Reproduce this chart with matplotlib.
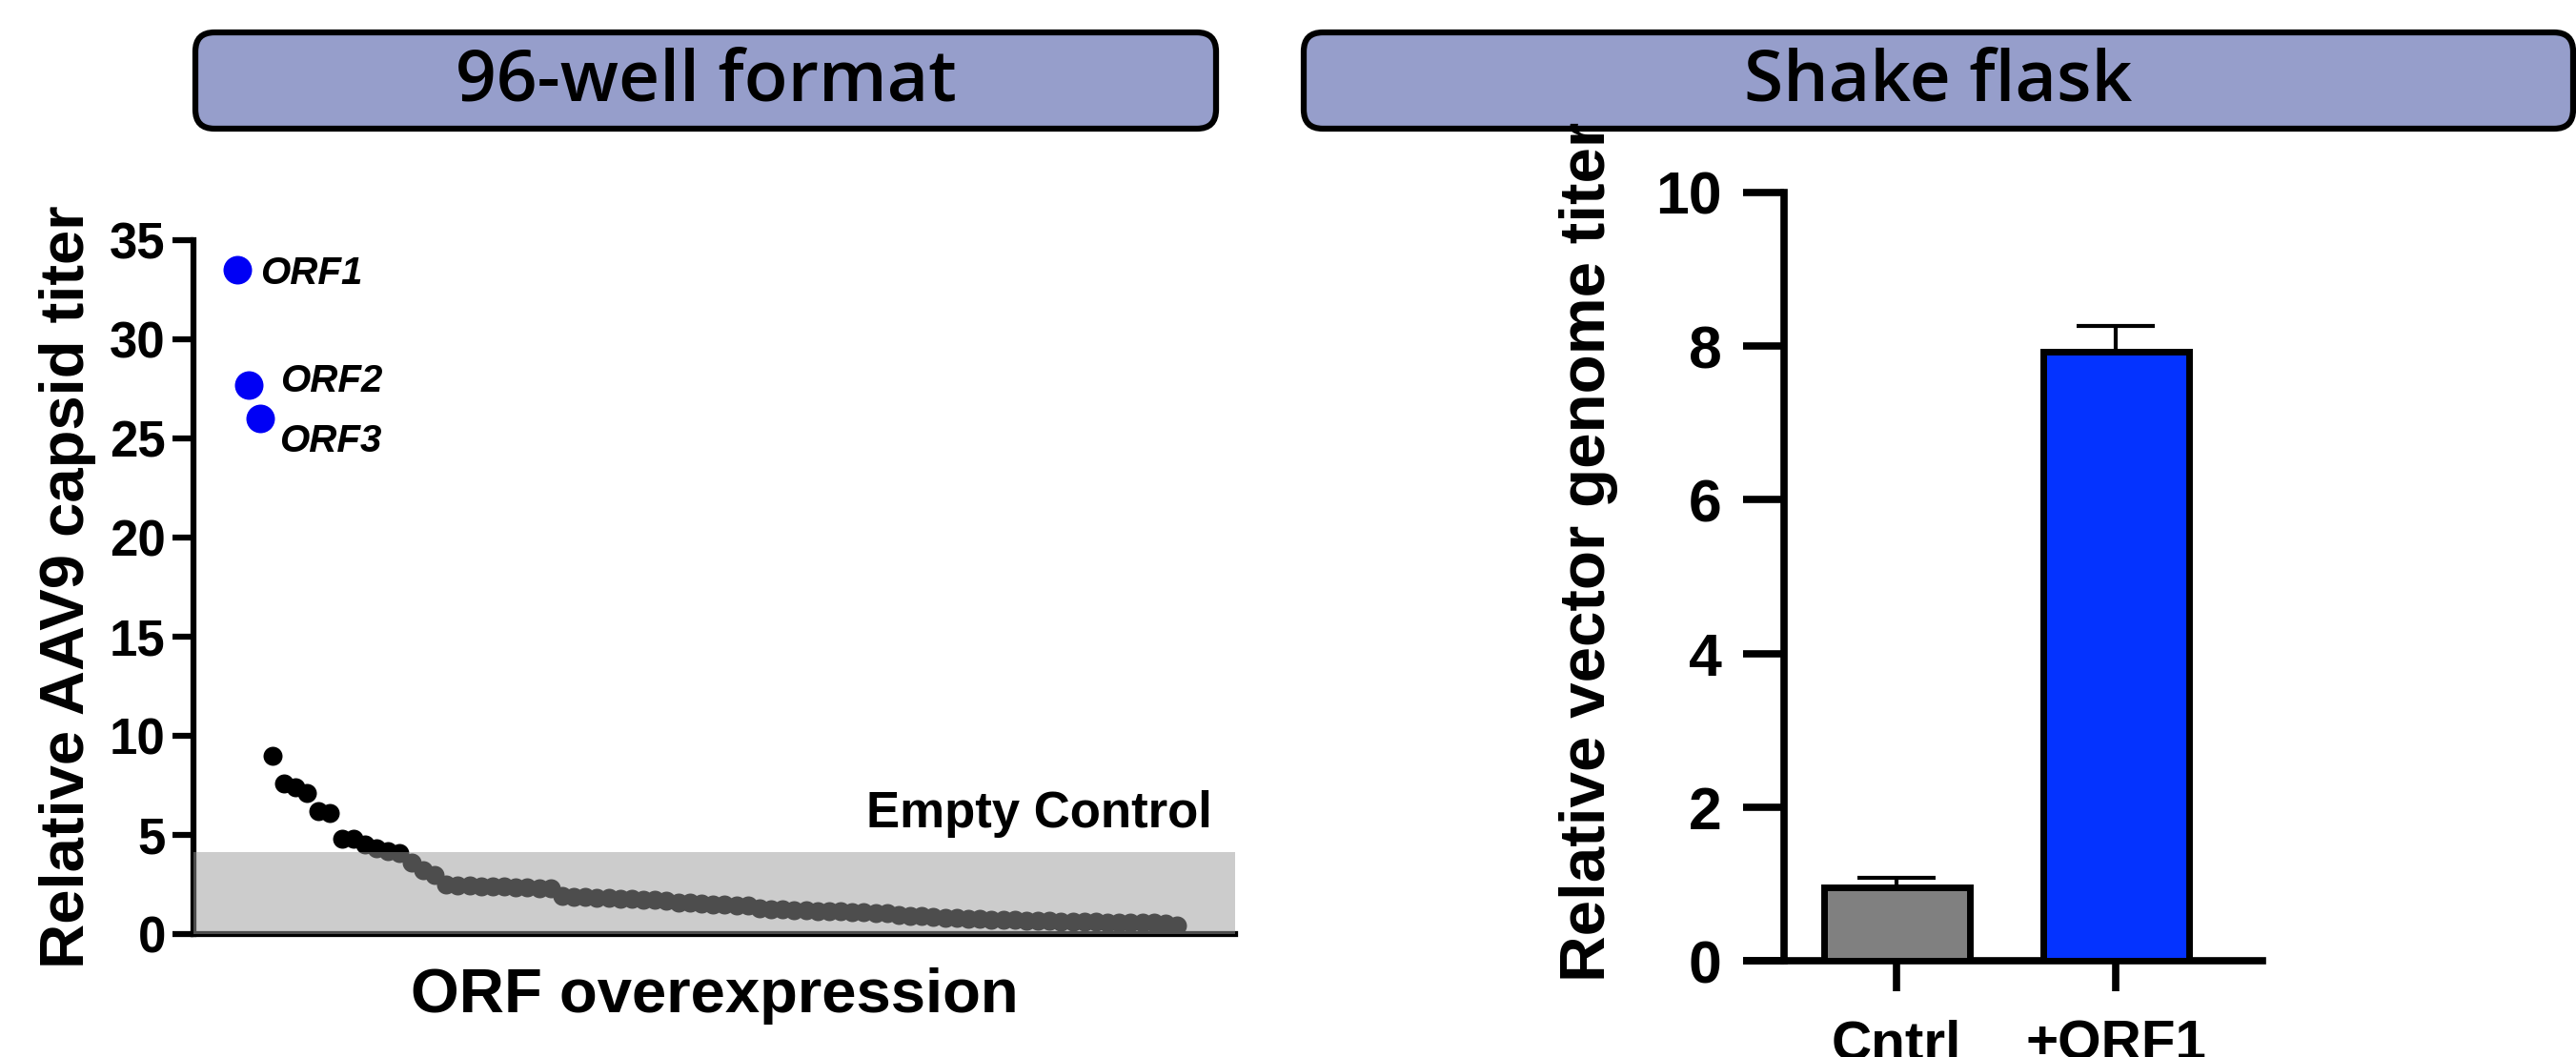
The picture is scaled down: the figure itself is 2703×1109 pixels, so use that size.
import numpy as np
import matplotlib.pyplot as plt
from matplotlib.patches import FancyBboxPatch

plt.rcParams['font.family'] = ['Liberation Sans', 'DejaVu Sans']
plt.rcParams['font.weight'] = 'bold'

# --- data ---
# 96-well screen, ranked ORFs (first three are the hits)
hit_names = ['ORF1', 'ORF2', 'ORF3']
hit_titer = [33.5, 27.7, 26.0]
other_titer = [9.0, 7.6, 7.4, 7.1, 6.2, 6.1, 4.8, 4.8, 4.5, 4.35, 4.2, 4.1,
               3.6, 3.2, 3.0, 2.5, 2.45, 2.45, 2.42, 2.4, 2.4, 2.37, 2.35,
               2.32, 2.3, 1.9, 1.88, 1.86, 1.84, 1.82, 1.8, 1.78, 1.75, 1.72,
               1.68, 1.6, 1.57, 1.54, 1.51, 1.48, 1.45, 1.42, 1.3, 1.27, 1.24,
               1.21, 1.19, 1.17, 1.15, 1.13, 1.11, 1.09, 1.07, 1.05, 0.95,
               0.92, 0.89, 0.86, 0.83, 0.8, 0.78, 0.76, 0.74, 0.72, 0.7, 0.68,
               0.66, 0.65, 0.64, 0.63, 0.62, 0.61, 0.6, 0.59, 0.58, 0.57,
               0.56, 0.54, 0.45]
empty_control = 4.15

# shake flask
flask_groups = ['Cntrl', '+ORF1']
flask_titer = [0.96, 7.93]
flask_err = [0.12, 0.33]
flask_colors = ['#808080', '#0433ff']

titles = ['96-well format', 'Shake flask']

W, H = 2703, 1109
fig = plt.figure(figsize=(W / 100, H / 100), dpi=100)

# header boxes drawn in pixel coordinates
bg = fig.add_axes([0, 0, 1, 1])
bg.set_xlim(0, W)
bg.set_ylim(H, 0)
bg.axis('off')
for (x0, x1), t in zip([(205, 1276), (1368, 2700)], titles):
    box = FancyBboxPatch((x0, 34), x1 - x0, 101,
                         boxstyle='round,pad=0,rounding_size=20',
                         facecolor='#969ecb', edgecolor='black', linewidth=4.5)
    bg.add_patch(box)
    bg.text((x0 + x1) / 2, 86, t, ha='center', va='center',
            fontsize=54, fontweight='semibold', family='Open Sans')

# --- left panel: scatter ---
ax1 = fig.add_axes([203 / W, 1 - 980 / H, (1296 - 203) / W, (980 - 252) / H])
x_hit = np.arange(len(hit_titer))
x_other = np.arange(len(hit_titer), len(hit_titer) + len(other_titer))
ax1.scatter(x_other, other_titer, s=207, color='black', linewidths=0, zorder=2)
ax1.scatter(x_hit, hit_titer, s=466, color='#0000f5', linewidths=0, zorder=5)
ax1.axhspan(0, empty_control, color='#9a9a9a', alpha=0.5, linewidth=0, zorder=3)

offsets = [(17, -3), (24, 3), (14, -17)]
for xi, yi, name, off in zip(x_hit, hit_titer, hit_names, offsets):
    ax1.annotate(name, (xi, yi), xytext=off, textcoords='offset points',
                 ha='left', va='center', fontsize=29, style='italic',
                 fontweight='bold')

ax1.text(0.978, 5.4, 'Empty Control', transform=ax1.get_yaxis_transform(),
         ha='right', va='baseline', fontsize=38, fontweight='bold')

ax1.set_xlim(-3.78, 86.0)
ax1.set_ylim(0, 35)
ax1.set_yticks(range(0, 36, 5))
ax1.set_xticks([])
ax1.spines[['top', 'right']].set_visible(False)
ax1.spines[['left', 'bottom']].set_linewidth(4.5)
ax1.tick_params(axis='y', length=16, width=4.5, labelsize=38, pad=5)
ax1.set_ylabel('Relative AAV9 capsid titer', fontsize=47, fontweight='bold',
               labelpad=10)
ax1.set_xlabel('ORF overexpression', fontsize=47, fontweight='bold',
               labelpad=25)

# --- right panel: bars ---
ax2 = fig.add_axes([1833 / W, 1 - 1008 / H, (2374 - 1833) / W, (1008 - 202) / H])
xb = np.arange(len(flask_groups))
ax2.bar(xb, flask_titer, width=0.665, color=flask_colors, edgecolor='black',
        linewidth=5, zorder=3)
ax2.errorbar(xb, flask_titer, yerr=[[0] * len(flask_err), flask_err],
             fmt='none', ecolor='black', elinewidth=3, capsize=29.5,
             capthick=3, zorder=2)
ax2.set_xlim(-0.683, 1.669)
ax2.set_ylim(0, 10)
ax2.set_yticks(range(0, 11, 2))
ax2.set_xticks(xb)
ax2.set_xticklabels(flask_groups)
ax2.spines['left'].set_position(('data', -0.513))
ax2.spines[['top', 'right']].set_visible(False)
ax2.spines[['left', 'bottom']].set_linewidth(5.5)
ax2.tick_params(axis='y', length=31, width=5.5, labelsize=45, pad=16)
ax2.tick_params(axis='x', length=23, width=5.5, labelsize=42, pad=21)
ax2.set_ylabel('Relative vector genome titer', fontsize=48.5, fontweight='bold')
ax2.yaxis.set_label_coords(-0.25, 0.532)

fig.savefig('out.png', dpi=100)
